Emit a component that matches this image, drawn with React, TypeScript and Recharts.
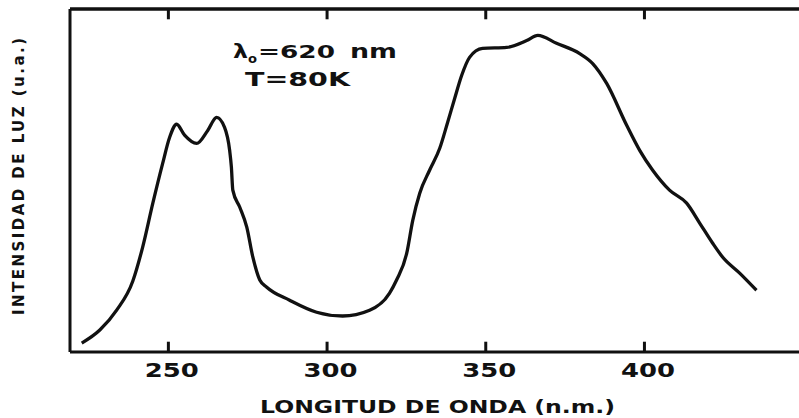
import { LineChart, Line, XAxis, YAxis, ReferenceLine } from 'recharts';

// excitation spectrum (nm vs. arbitrary units)
const wavelength = [
  222.7, 228.4, 233.7, 238.8, 241.9, 245.1, 248.2, 250.4, 252.6, 255.1, 258.9,
  262.4, 265.2, 267.7, 269.3, 269.85, 270.3, 272.5, 274.7, 276.6, 278.8, 281.0, 288.2,
  296.7, 304.9, 313.4, 319.7, 321.9, 325.1, 327.0, 329.2, 332.3, 335.5, 338.0,
  340.2, 342.4, 344.9, 349.0, 356.6, 362.9, 366.4, 372.3, 379.6, 383.7, 388.1,
  394.4, 398.5, 402.6, 407.9, 413.3, 417.4, 421.5, 424.6, 430.0, 435.3,
];
const intensity = [
  2.6, 6.4, 12.2, 20.7, 30.6, 43.4, 55.0, 62.6, 66.4, 63.2, 60.8,
  64.6, 68.4, 65.5, 58.8, 53.9, 47.2, 42.2, 36.4, 27.7, 21.0, 18.9, 15.1,
  11.6, 10.5, 12.2, 17.2, 21.0, 28.8, 38.4, 46.3, 53.0, 59.4, 67.0,
  73.9, 80.6, 85.9, 88.5, 88.8, 90.8, 92.3, 90.0, 87.0, 84.1, 78.3,
  66.1, 58.8, 53.0, 47.2, 43.4, 37.6, 31.7, 27.7, 23.0, 18.0,
];
const xTicks = [250, 300, 350, 400];

const data = wavelength.map((w, i) => ({ w, v: intensity[i] }));

const FONT = "'DejaVu Sans', 'Liberation Sans', sans-serif";
const INK = '#111';
const X_DOMAIN: [number, number] = [219, 448.7];
const Y_MAX = 100;
// tick marks point inward from both horizontal edges
const TICK_IN = 3;

// frame top edge and the inward tick marks, drawn as short series
const topEdge = X_DOMAIN.map((w) => ({ w, v: Y_MAX }));
const bottomMarks = xTicks.map((t) => [{ w: t, v: 0 }, { w: t, v: TICK_IN }]);
const topMarks = xTicks.map((t) => [{ w: t, v: Y_MAX }, { w: t, v: Y_MAX - TICK_IN }]);

const txt = { fontFamily: FONT, fontWeight: 'bold' as const, fill: INK };

function BottomTick(props: any) {
  const { x, payload } = props;
  return (
    <text
      x={x + 3.5}
      y={377}
      textAnchor="middle"
      fontSize={20}
      textLength={54}
      lengthAdjust="spacingAndGlyphs"
      {...txt}
    >
      {payload.value}
    </text>
  );
}

// axis titles and the measurement conditions
function Annotations() {
  return (
    <g>
      <text x={260} y={413} fontSize={18} textLength={355} lengthAdjust="spacingAndGlyphs" {...txt}>
        LONGITUD DE ONDA (n.m.)
      </text>
      <text
        transform="translate(23.5,176.5) rotate(-90)"
        x={0}
        y={0}
        textAnchor="middle"
        fontSize={15}
        textLength={277}
        lengthAdjust="spacing"
        {...txt}
      >
        INTENSIDAD DE LUZ (u.a.)
      </text>
      <text x={233} y={58} fontSize={20} textLength={15} lengthAdjust="spacingAndGlyphs" {...txt}>λ</text>
      <text x={248} y={63} fontSize={12} textLength={9} lengthAdjust="spacingAndGlyphs" {...txt}>o</text>
      <text x={258} y={58} fontSize={18} textLength={77} lengthAdjust="spacingAndGlyphs" {...txt}>=620</text>
      <text x={350} y={58} fontSize={19} textLength={47} lengthAdjust="spacingAndGlyphs" {...txt}>nm</text>
      <text x={245} y={86} fontSize={19} textLength={105} lengthAdjust="spacingAndGlyphs" {...txt}>T=80K</text>
    </g>
  );
}

const frame = { stroke: INK, strokeWidth: 3 };

export default function App() {
  return (
    <div style={{ position: 'absolute', left: 0, top: 0, background: '#fff' }}>
      <LineChart
        width={799}
        height={418}
        data={data}
        margin={{ top: 9, right: 0, bottom: 0, left: 0 }}
      >
        <XAxis
          dataKey="w"
          type="number"
          domain={X_DOMAIN}
          ticks={xTicks}
          height={66}
          axisLine={frame}
          tickLine={false}
          tick={<BottomTick />}
        />
        <YAxis
          type="number"
          domain={[0, Y_MAX]}
          width={70}
          tick={false}
          axisLine={frame}
        />
        <ReferenceLine y={Y_MAX} stroke={INK} strokeWidth={3} label={<Annotations />} />
        <Line
          data={topEdge}
          type="linear"
          dataKey="v"
          stroke={INK}
          strokeWidth={3}
          dot={false}
          activeDot={false}
          isAnimationActive={false}
        />
        {bottomMarks.map((seg, i) => (
          <Line
            key={`b${i}`}
            data={seg}
            type="linear"
            dataKey="v"
            stroke={INK}
            strokeWidth={3}
            dot={false}
            activeDot={false}
            isAnimationActive={false}
          />
        ))}
        {topMarks.map((seg, i) => (
          <Line
            key={`t${i}`}
            data={seg}
            type="linear"
            dataKey="v"
            stroke={INK}
            strokeWidth={3}
            dot={false}
            activeDot={false}
            isAnimationActive={false}
          />
        ))}
        <Line
          type="monotone"
          dataKey="v"
          stroke={INK}
          strokeWidth={3.3}
          dot={false}
          activeDot={false}
          isAnimationActive={false}
        />
      </LineChart>
    </div>
  );
}
